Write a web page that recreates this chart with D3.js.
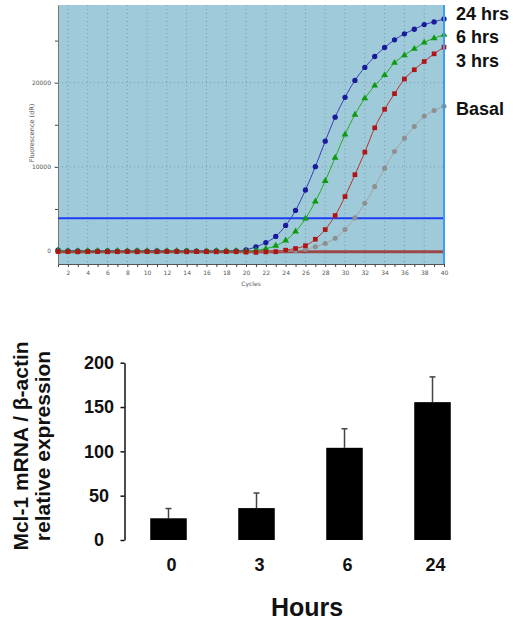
<!DOCTYPE html>
<html lang="en">
<head>
    <meta charset="UTF-8">
    <title>Mcl-1 qPCR</title>
    <script src="https://cdnjs.cloudflare.com/ajax/libs/d3/7.8.5/d3.min.js"></script>
    <style>
        body { margin: 0; background: #fff; }
        svg { display: block; }
    </style>
</head>
<body>
<script>
    // amplification plot data, fluorescence (dR) per cycle
    var cycles = [1, 2, 3, 4, 5, 6, 7, 8, 9, 10, 11, 12, 13, 14, 15, 16, 17, 18, 19, 20,
                  21, 22, 23, 24, 25, 26, 27, 28, 29, 30, 31, 32, 33, 34, 35, 36, 37, 38, 39, 40];
    var hrs24 = [120, 30, 10, 0, -20, 10, 0, -10, 20, 0, 10, -10, 0, 10, 0, -20, 10, 0, 20,
                 150, 500, 1000, 1740, 3040, 4820, 7250, 10020, 13050, 15900, 18260, 20270,
                 21810, 23110, 24180, 25090, 25800, 26350, 26900, 27220, 27570];
    var hrs6 = [80, 0, -20, 10, 0, -30, 0, -10, 10, 0, -20, 0, 10, -10, -40, -20, 0, 10, 0, -30,
                80, 280, 630, 1250, 2330, 3850, 5880, 8320, 11090, 13850, 16200, 18140, 19650,
                20900, 22350, 23270, 24020, 24770, 25290, 25680];
    var hrs3 = [-60, -80, -90, -80, -70, -90, -80, -60, -90, -70, -80, -60, -50, -90, -70, -80,
                -90, -70, -80, -120, -150, -100, -80, 100, 300, 640, 1400, 2550, 4220, 6470, 9070,
                11750, 14640, 16840, 18700, 20440, 21540, 22520, 23430, 24220];
    var basal = [-40, -60, -70, -60, -50, -80, -70, -60, -80, -70, -60, -50, -60, -70, -60, -80,
                 -60, -50, -70, -150, -140, -90, -70, -20, 50, 200, 500, 900, 1520, 2550, 3940,
                 5680, 7650, 9820, 11830, 13410, 14790, 16010, 16690, 17200];
    var threshold = 3900;
    var baseline = -80;
    var xTicks = [2, 4, 6, 8, 10, 12, 14, 16, 18, 20, 22, 24, 26, 28, 30, 32, 34, 36, 38, 40];
    var yTicks = [0, 10000, 20000];
    var yMinor = [0, 5000, 10000, 15000, 20000, 25000];

    // bar chart data
    var hours = ["0", "3", "6", "24"];
    var expression = [24.5, 36, 104, 155.5];
    var expressionErr = [11, 17, 21.5, 28.5];
    var barTicks = [0, 50, 100, 150, 200];

    var svg = d3.select("body").append("svg")
            .attr("width", 513)
            .attr("height", 624);

    // ---------- top: amplification plot ----------
    var x = d3.scaleLinear().domain([1, 40]).range([58, 444]);
    var y = d3.scaleLinear().domain([-1540, 29230]).range([264, 5]);

    var amp = svg.append("g");
    amp.append("rect")
            .attr("x", 58).attr("y", 5)
            .attr("width", 386).attr("height", 259)
            .attr("fill", "#9fcad9");

    // dotted grid
    amp.selectAll("line.vgrid").data(xTicks).enter().append("line")
            .attr("x1", function(d) { return x(d); })
            .attr("x2", function(d) { return x(d); })
            .attr("y1", 5).attr("y2", 264)
            .attr("stroke", "#6d8e9a").attr("stroke-width", 0.8)
            .attr("stroke-dasharray", "1,3");
    amp.selectAll("line.hgrid").data([10000, 20000]).enter().append("line")
            .attr("x1", 50).attr("x2", 444)
            .attr("y1", function(d) { return y(d); })
            .attr("y2", function(d) { return y(d); })
            .attr("stroke", "#6d8e9a").attr("stroke-width", 0.8)
            .attr("stroke-dasharray", "1,3");

    // axes
    var xAxis = amp.append("g")
            .attr("transform", "translate(0,264)")
            .call(d3.axisBottom(x).tickValues(cycles).tickSize(3).tickFormat(function(d) {
                return xTicks.indexOf(d) >= 0 ? d : "";
            }));
    xAxis.select(".domain").attr("stroke", "#555");
    xAxis.selectAll(".tick line").attr("stroke", "#444");
    xAxis.selectAll("text").attr("font-size", 6).attr("fill", "#555")
            .attr("font-family", "DejaVu Sans, sans-serif").attr("dy", "0.9em");

    var yMinorAxis = amp.append("g")
            .attr("transform", "translate(58,0)")
            .call(d3.axisLeft(y).tickValues(yMinor).tickSize(3).tickFormat(""));
    yMinorAxis.select(".domain").remove();
    yMinorAxis.selectAll(".tick line").attr("stroke", "#444");

    var yAxis = amp.append("g")
            .attr("transform", "translate(58,0)")
            .call(d3.axisLeft(y).tickValues(yTicks).tickFormat(d3.format("d"))
                    .tickSize(0).tickPadding(7).tickSizeOuter(0));
    yAxis.select(".domain").attr("stroke", "#777");
    yAxis.selectAll("text").attr("font-size", 6).attr("fill", "#555")
            .attr("font-family", "DejaVu Sans, sans-serif");

    amp.append("text")
            .attr("transform", "translate(34,133) rotate(-90)")
            .attr("text-anchor", "middle")
            .attr("font-family", "DejaVu Sans, sans-serif")
            .attr("font-size", 6.5).attr("fill", "#555")
            .text("Fluorescence (dR)");
    amp.append("text")
            .attr("x", 251).attr("y", 286)
            .attr("text-anchor", "middle")
            .attr("font-family", "DejaVu Sans, sans-serif")
            .attr("font-size", 6).attr("fill", "#555")
            .text("Cycles");

    // threshold + baseline
    amp.append("line")
            .attr("x1", 58).attr("x2", 444)
            .attr("y1", y(threshold)).attr("y2", y(threshold))
            .attr("stroke", "#1d3cf5").attr("stroke-width", 2);
    amp.append("line")
            .attr("x1", 58).attr("x2", 444)
            .attr("y1", y(baseline)).attr("y2", y(baseline))
            .attr("stroke", "#9c4848").attr("stroke-width", 3);

    var series = [
        {name: "Basal", values: basal, line: "#a3a3a3", mark: "#8f8f8f", shape: d3.symbolCircle, size: 20},
        {name: "24 hrs", values: hrs24, line: "#3c3cb8", mark: "#1a1a9a", shape: d3.symbolCircle, size: 22},
        {name: "6 hrs", values: hrs6, line: "#22aa22", mark: "#0e9a0e", shape: d3.symbolTriangle, size: 20},
        {name: "3 hrs", values: hrs3, line: "#b43232", mark: "#b01515", shape: d3.symbolSquare, size: 22}
    ];

    var line = d3.line()
            .x(function(d, i) { return x(cycles[i]); })
            .y(function(d) { return y(d); })
            .curve(d3.curveMonotoneX);

    series.forEach(function(s) {
        amp.append("path")
                .attr("d", line(s.values))
                .attr("fill", "none")
                .attr("stroke", s.line)
                .attr("stroke-width", 1);
    });
    series.forEach(function(s) {
        amp.selectAll(null).data(s.values).enter().append("path")
                .attr("d", d3.symbol().type(s.shape).size(s.size))
                .attr("transform", function(d, i) {
                    return "translate(" + x(cycles[i]) + "," + y(d) + ")";
                })
                .attr("fill", s.mark);
    });

    // right edge
    amp.append("line")
            .attr("x1", 444).attr("x2", 444)
            .attr("y1", 5).attr("y2", 264)
            .attr("stroke", "#3d9de6").attr("stroke-width", 2);

    // series labels
    var labels = [{t: "24 hrs", y: 20}, {t: "6 hrs", y: 43}, {t: "3 hrs", y: 67}, {t: "Basal", y: 115}];
    amp.selectAll("text.lab").data(labels).enter().append("text")
            .attr("x", 456)
            .attr("y", function(d) { return d.y; })
            .attr("font-family", "Liberation Sans, Arial, sans-serif")
            .attr("font-weight", "bold")
            .attr("font-size", 18)
            .attr("fill", "#111")
            .text(function(d) { return d.t; });

    // ---------- bottom: bar chart ----------
    var bx = d3.scaleBand().domain(hours).range([124.5, 476.5])
            .paddingInner(0.585).paddingOuter(0.2925);
    var by = d3.scaleLinear().domain([0, 200]).range([540, 362.7]);

    var bottom = svg.append("g");
    var bars = hours.map(function(h, i) {
        return {h: h, v: expression[i], e: expressionErr[i]};
    });

    // error bars (upper only)
    bottom.selectAll("line.err").data(bars).enter().append("line")
            .attr("x1", function(d) { return bx(d.h) + bx.bandwidth() / 2; })
            .attr("x2", function(d) { return bx(d.h) + bx.bandwidth() / 2; })
            .attr("y1", function(d) { return by(d.v); })
            .attr("y2", function(d) { return by(d.v + d.e); })
            .attr("stroke", "#444").attr("stroke-width", 1.5);
    bottom.selectAll("line.cap").data(bars).enter().append("line")
            .attr("x1", function(d) { return bx(d.h) + bx.bandwidth() / 2 - 3; })
            .attr("x2", function(d) { return bx(d.h) + bx.bandwidth() / 2 + 3; })
            .attr("y1", function(d) { return by(d.v + d.e); })
            .attr("y2", function(d) { return by(d.v + d.e); })
            .attr("stroke", "#444").attr("stroke-width", 1.5);

    bottom.selectAll("rect.bar").data(bars).enter().append("rect")
            .attr("x", function(d) { return bx(d.h); })
            .attr("y", function(d) { return by(d.v); })
            .attr("width", bx.bandwidth())
            .attr("height", function(d) { return by(0) - by(d.v); })
            .attr("fill", "#000");

    var bAxis = bottom.append("g")
            .attr("transform", "translate(124.5,0)")
            .call(d3.axisLeft(by).tickValues(barTicks).tickSize(4).tickSizeOuter(0).tickPadding(8));
    bAxis.select(".domain").attr("stroke", "#111").attr("stroke-width", 1.5);
    bAxis.selectAll(".tick line").attr("stroke", "#111").attr("stroke-width", 1.5);
    bAxis.selectAll("text")
            .attr("x", -25.5)
            .attr("text-anchor", "middle")
            .attr("font-family", "Liberation Sans, Arial, sans-serif")
            .attr("font-weight", "bold")
            .attr("font-size", 18)
            .attr("fill", "#111");

    bottom.selectAll("text.hr").data(hours).enter().append("text")
            .attr("x", function(d) { return bx(d) + bx.bandwidth() / 2 + 3; })
            .attr("y", 571)
            .attr("text-anchor", "middle")
            .attr("font-family", "Liberation Sans, Arial, sans-serif")
            .attr("font-weight", "bold")
            .attr("font-size", 18)
            .attr("fill", "#111")
            .text(function(d) { return d; });

    bottom.append("text")
            .attr("x", 307).attr("y", 616)
            .attr("text-anchor", "middle")
            .attr("font-family", "Liberation Sans, Arial, sans-serif")
            .attr("font-weight", "bold")
            .attr("font-size", 25)
            .attr("fill", "#111")
            .text("Hours");

    var yTitle = ["Mcl-1 mRNA / \u03b2-actin", "relative expression"];
    bottom.selectAll("text.yt").data(yTitle).enter().append("text")
            .attr("transform", function(d, i) {
                return "translate(" + (28 + i * 22) + ",446) rotate(-90)";
            })
            .attr("text-anchor", "middle")
            .attr("font-family", "Liberation Sans, Arial, sans-serif")
            .attr("font-weight", "bold")
            .attr("font-size", 21)
            .attr("fill", "#111")
            .text(function(d) { return d; });
</script>
</body>
</html>
